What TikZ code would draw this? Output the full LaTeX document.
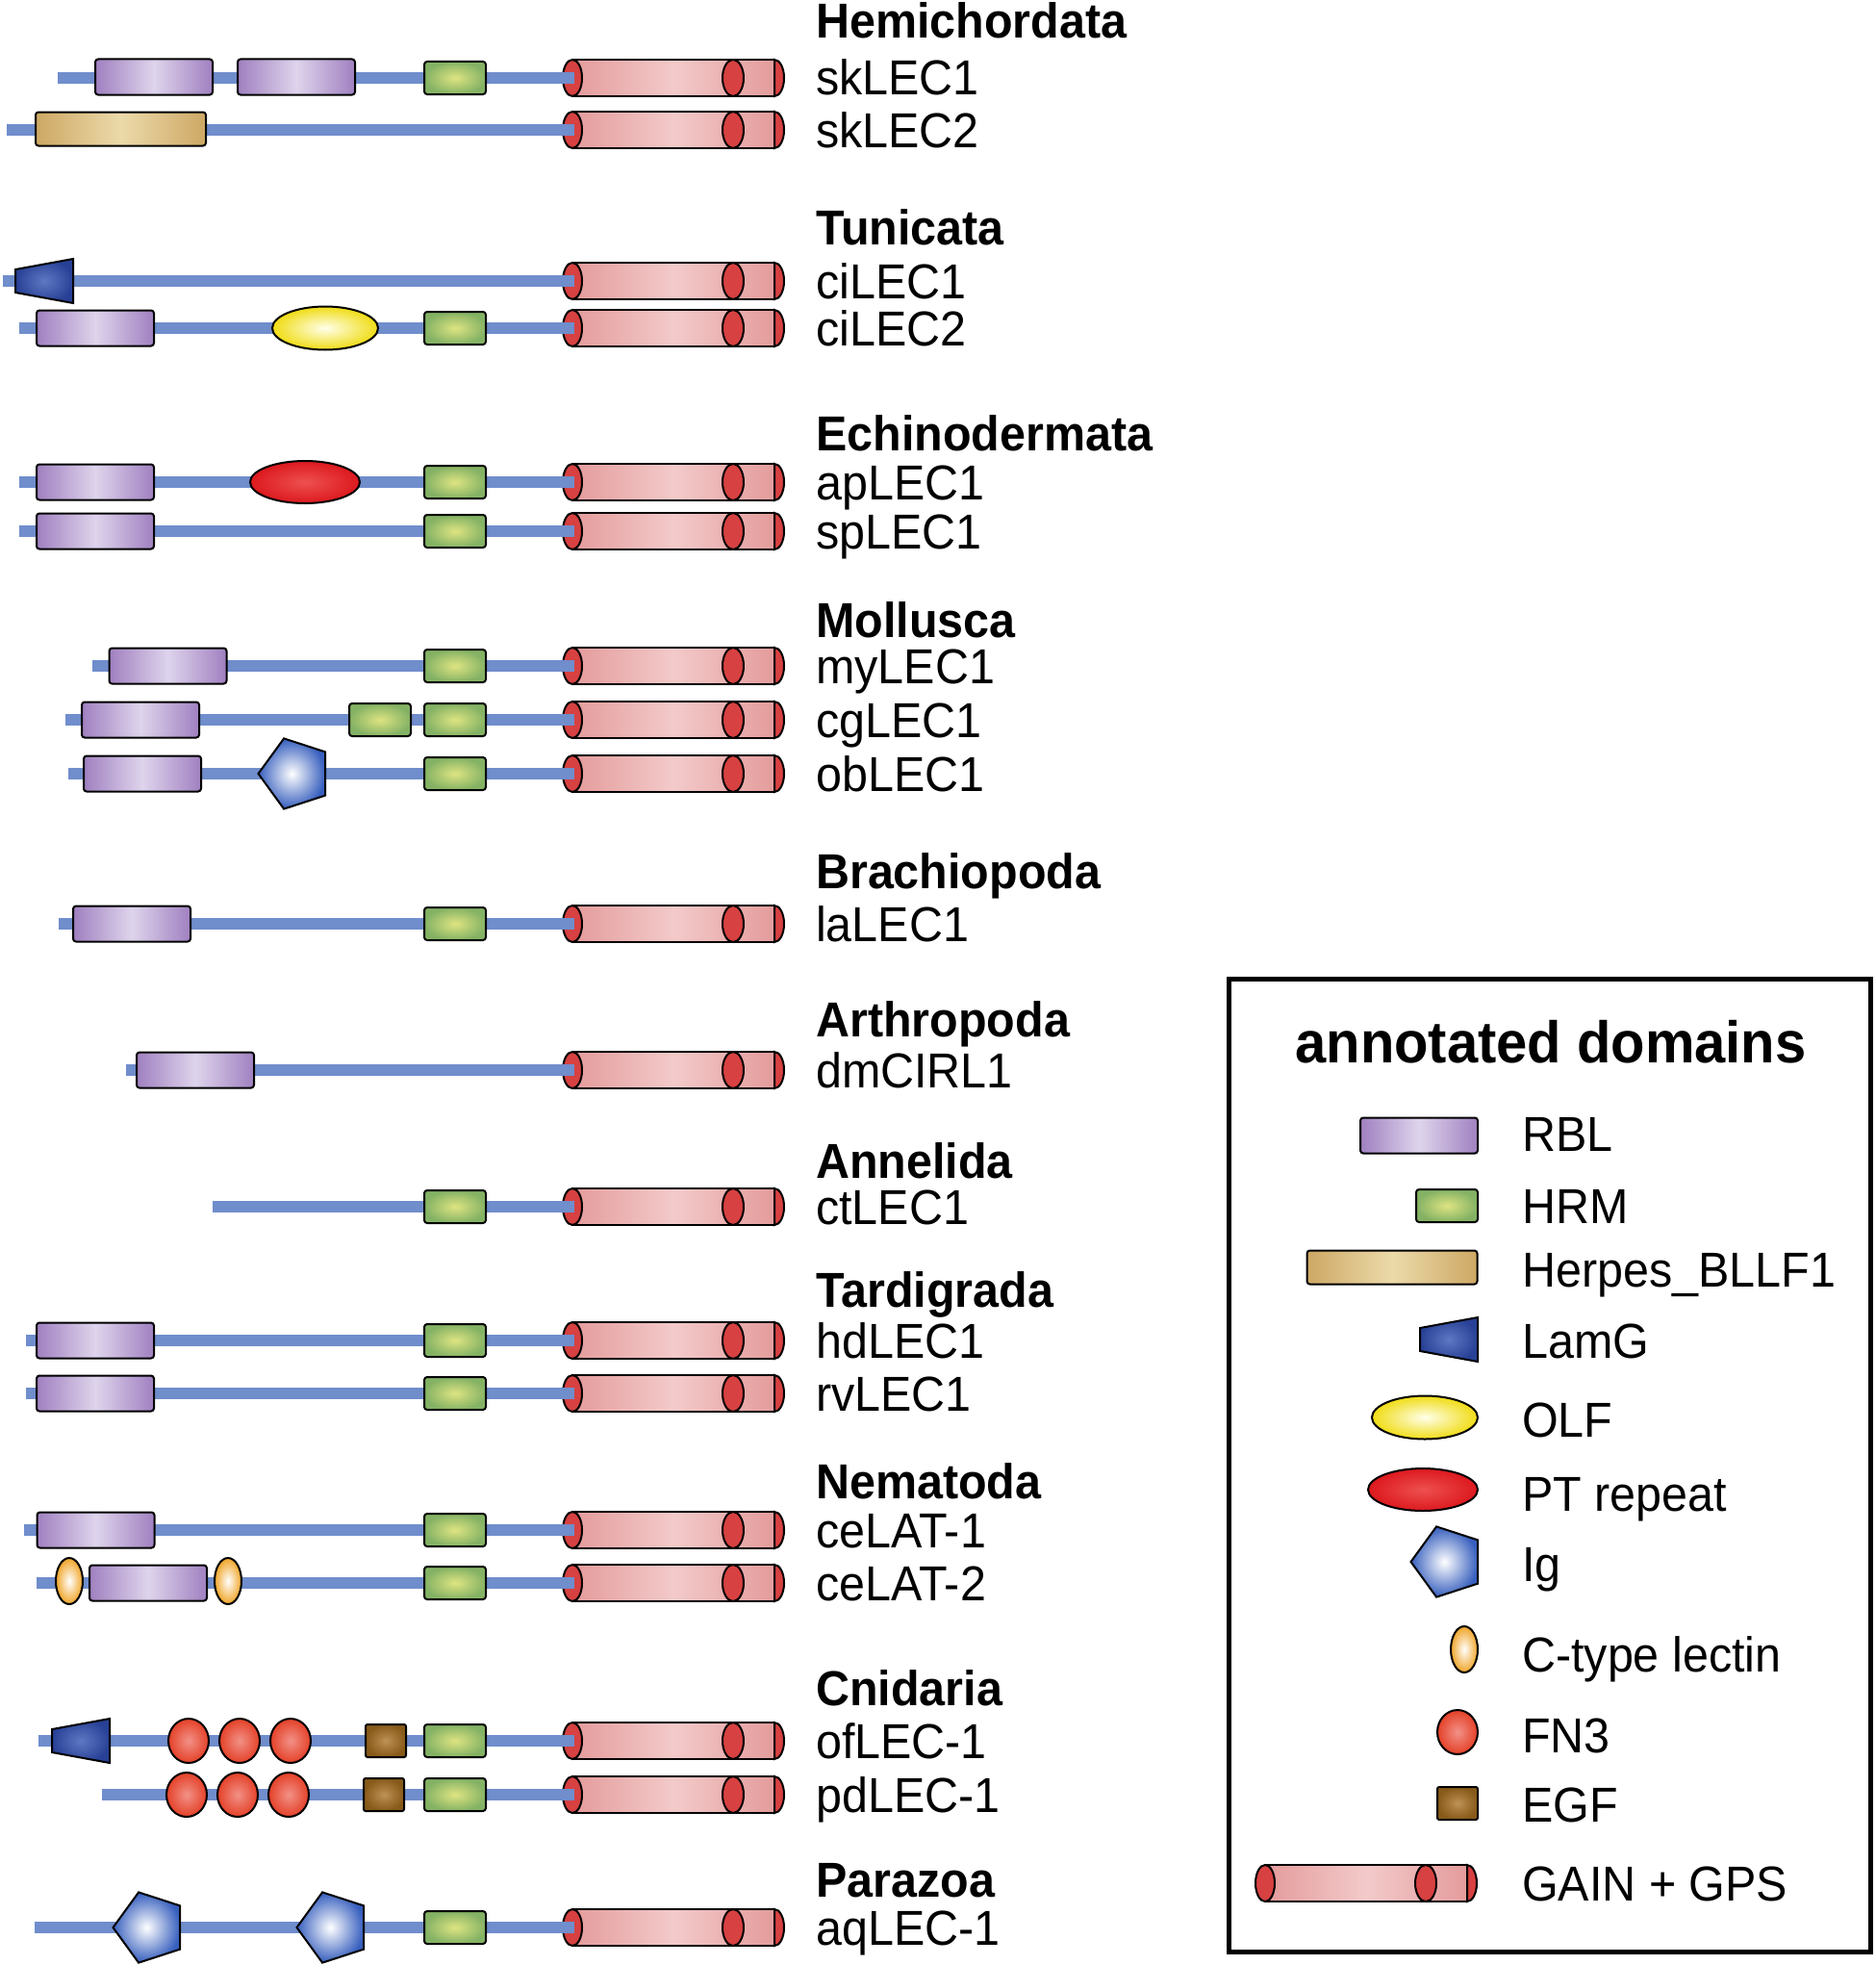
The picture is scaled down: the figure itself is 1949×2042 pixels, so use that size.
\documentclass[tikz,border=0pt]{standalone}
\usepackage{fontspec}
\setmainfont[FakeStretch=0.95]{Liberation Sans}
\usepackage{tikz}
\usetikzlibrary{shapes.geometric}

\definecolor{bbone}{RGB}{112,141,204}
\definecolor{rblout}{RGB}{160,128,192}
\definecolor{rblin}{RGB}{222,212,236}
\definecolor{hrmout}{RGB}{132,178,100}
\definecolor{hrmin}{RGB}{222,228,130}
\definecolor{herpout}{RGB}{205,168,100}
\definecolor{herpin}{RGB}{236,218,170}
\definecolor{lamgout}{RGB}{40,65,150}
\definecolor{lamgin}{RGB}{95,120,195}
\definecolor{olfout}{RGB}{240,220,20}
\definecolor{olfin}{RGB}{255,255,235}
\definecolor{ptrout}{RGB}{220,25,30}
\definecolor{ptrin}{RGB}{238,80,80}
\definecolor{igout}{RGB}{55,95,190}
\definecolor{ctlout}{RGB}{240,165,40}
\definecolor{fnout}{RGB}{228,65,40}
\definecolor{fnin}{RGB}{242,145,135}
\definecolor{egfout}{RGB}{135,90,25}
\definecolor{egfin}{RGB}{190,145,85}
\definecolor{gainout}{RGB}{228,155,155}
\definecolor{gainin}{RGB}{243,202,202}
\definecolor{gaincap}{RGB}{215,65,65}

\tikzset{dom/.style={draw=black, line width=2pt, inner sep=0pt, outer sep=0pt},
rbl/.style={dom, rectangle, rounded corners=3pt, minimum width=122pt, minimum height=37pt, left color=rblout, right color=rblout, middle color=rblin},
hrm/.style={dom, rectangle, rounded corners=3pt, minimum width=64pt, minimum height=34pt, inner color=hrmin, outer color=hrmout},
herpes/.style={dom, rectangle, rounded corners=3pt, minimum width=177pt, minimum height=35pt, left color=herpout, right color=herpout, middle color=herpin},
olf/.style={dom, ellipse, minimum width=110pt, minimum height=45pt, inner color=olfin, outer color=olfout},
ptr/.style={dom, ellipse, minimum width=114pt, minimum height=44pt, inner color=ptrin, outer color=ptrout},
ig/.style={dom, regular polygon, regular polygon sides=5, shape border rotate=90, minimum size=77pt, inner color=white, outer color=igout},
ctl/.style={dom, ellipse, minimum width=28pt, minimum height=48pt, inner color=white, outer color=ctlout},
fn/.style={dom, ellipse, minimum width=42pt, minimum height=46pt, inner color=fnin, outer color=fnout},
egf/.style={dom, rectangle, rounded corners=2pt, minimum width=42pt, minimum height=34pt, inner color=egfin, outer color=egfout},
bbone/.style={line width=12pt, draw=bbone},
lbl/.style={anchor=base west, yshift=-18pt, inner sep=0pt, font=\fontsize{51pt}{58pt}\selectfont},
hdr/.style={lbl, font=\fontsize{51pt}{58pt}\selectfont\bfseries},
ttl/.style={inner sep=0pt, font=\fontsize{61pt}{68pt}\selectfont\bfseries},
gain/.pic={
  \path[left color=gainout, right color=gainout, middle color=gainin] (0,-19) rectangle (211,19);
  \draw[line width=2pt] (0,-19) -- (211,-19) (0,19) -- (211,19);
  \draw[line width=2pt, fill=gaincap] (210,-19) arc[start angle=-90, end angle=90, x radius=10, y radius=19] -- cycle;
  \draw[line width=2pt, fill=gaincap] (167,0) ellipse [x radius=11, y radius=19];
  \draw[line width=2pt, fill=gaincap] (0,0) ellipse [x radius=10, y radius=19];
},
lamg/.pic={
  \draw[line width=2pt, inner color=lamgin, outer color=lamgout] (0,-12) -- (60,-23) -- (60,23) -- (0,12) -- cycle;
}}

\begin{document}
\begin{tikzpicture}[x=1pt, y=-1pt]
\useasboundingbox (0,0) rectangle (1949,2042);

% proteins: GAIN, backbone, name
\foreach \y/\s/\n [count=\i] in {81/60/skLEC1, 135/7/skLEC2, 292/3/ciLEC1, 341/20/ciLEC2,
  501/20/apLEC1, 552/20/spLEC1, 692/96/myLEC1, 748/68/cgLEC1, 804/71/obLEC1,
  960/61/laLEC1, 1112/131/dmCIRL1, 1254/221/ctLEC1, 1393/27/hdLEC1, 1448/27/rvLEC1,
  1590/25/ceLAT-1, 1645/38/ceLAT-2, 1809/40/ofLEC-1, 1865/106/pdLEC-1, 2003/36/aqLEC-1}{
  \pic at (595,\y) {gain};
  \coordinate (s\i) at (\s,\y);
  \coordinate (g\i) at (597,\y);
  \draw[bbone] (s\i) -- (g\i);
  \node[lbl] (n\i) at (848,\y) {\n};
}

% taxa
\foreach \y/\n [count=\i] in {22/Hemichordata, 236/Tunicata, 450/Echinodermata, 644/Mollusca,
  905/Brachiopoda, 1059/Arthropoda, 1206/Annelida, 1340/Tardigrada, 1539/Nematoda,
  1754/Cnidaria, 1953/Parazoa}
  \node[hdr] (t\i) at (848,\y) {\n};

% HRM next to GAIN
\foreach \y [count=\i] in {81,341,501,552,692,748,804,960,1254,1393,1448,1590,1645,1809,1865,2003}
  \node[hrm] (hrm\i) at (473,\y) {};

% other domains
\node[rbl] (sk1a) at (160,80) {};
\node[rbl] (sk1b) at (308,80) {};
\node[herpes] (sk2a) at (125.5,134) {};
\pic at (16,292) {lamg};
\node[rbl] (ci2a) at (99,341) {};
\node[olf] (ci2b) at (338,341) {};
\node[rbl] (ap1a) at (99,501) {};
\node[ptr] (ap1b) at (317,501) {};
\node[rbl] (sp1a) at (99,552) {};
\node[rbl] (my1a) at (174.5,692) {};
\node[rbl] (cg1a) at (146,748) {};
\node[hrm] (cg1b) at (395,748) {};
\node[rbl] (ob1a) at (148,804) {};
\node[ig] (ob1b) at (307,804) {};
\node[rbl] (la1a) at (137,960) {};
\node[rbl] (dm1a) at (203,1112) {};
\node[rbl] (hd1a) at (99,1393) {};
\node[rbl] (rv1a) at (99,1448) {};
\node[rbl] (ce1a) at (99.5,1590) {};
\node[ctl] (ce2a) at (72,1643) {};
\node[rbl] (ce2b) at (154,1645) {};
\node[ctl] (ce2c) at (237,1643) {};
\pic at (54,1809) {lamg};
\foreach \x [count=\i] in {196,249,302}
  \node[fn] (of1f\i) at (\x,1809) {};
\node[egf] (of1e) at (401,1809) {};
\foreach \x [count=\i] in {194,247,300}
  \node[fn] (pd1f\i) at (\x,1865) {};
\node[egf] (pd1e) at (399,1865) {};
\node[ig] (aq1a) at (156,2003) {};
\node[ig] (aq1b) at (347,2003) {};

% legend
\draw[line width=5pt] (1277,1017) rectangle (1944,2028);
\node[ttl] (ttl) at (1612,1083) {annotated domains};
\node[rbl] (k1) at (1475,1180) {};
\node[hrm] (k2) at (1504,1253) {};
\node[herpes] (k3) at (1447,1317) {};
\pic at (1476,1392) {lamg};
\node[olf] (k5) at (1481,1473) {};
\node[ptr] (k6) at (1479,1548) {};
\node[ig] (k7) at (1505,1623) {};
\node[ctl] (k8) at (1522,1714) {};
\node[fn] (k9) at (1515,1800) {};
\node[egf] (k10) at (1515,1874) {};
\pic at (1315,1957) {gain};
\foreach \y/\n [count=\i] in {1178/RBL, 1253/HRM, 1319/Herpes\_BLLF1, 1393/LamG, 1475/OLF,
  1552/PT repeat, 1625/Ig, 1719/C-type lectin, 1803/FN3, 1875/EGF, 1957/GAIN + GPS}
  \node[lbl] (kl\i) at (1582,\y) {\n};

\end{tikzpicture}
\end{document}
